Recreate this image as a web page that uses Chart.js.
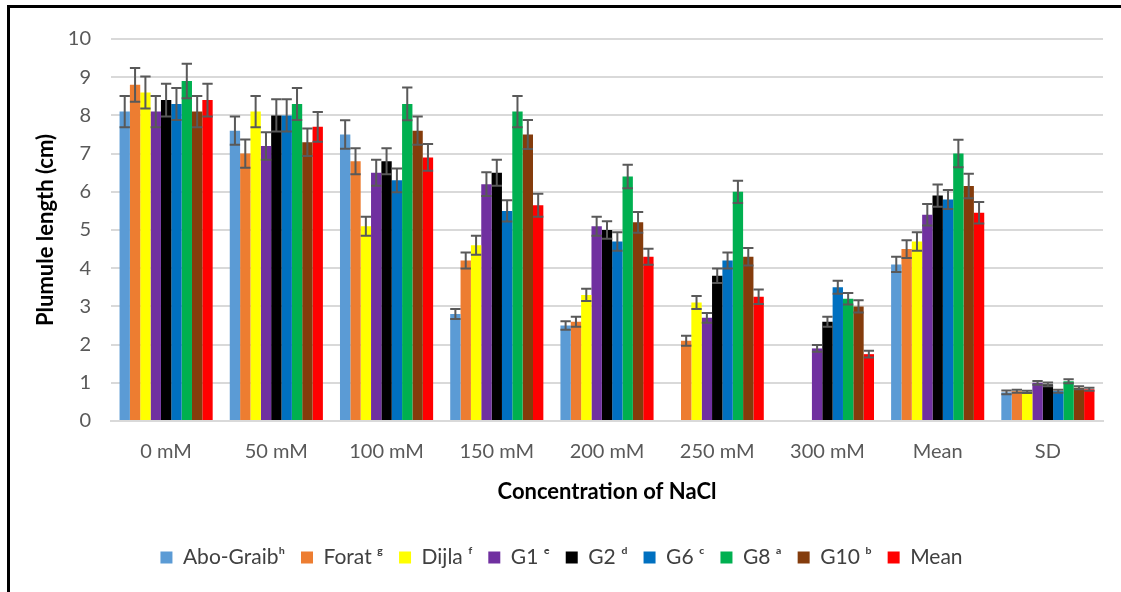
<!DOCTYPE html>
<html>
<head>
<meta charset="utf-8">
<script src="https://cdn.jsdelivr.net/npm/chart.js@4/dist/chart.umd.min.js"></script>
<style>
  body { margin: 0; background: #fff; }
  #wrap { position: relative; width: 1121px; height: 592px; }
  #frame { position: absolute; left: 7px; top: 5px; right: 0; bottom: 0;
           border-left: 3px solid #000; border-top: 3px solid #000; pointer-events: none; }
  canvas { position: absolute; left: 0; top: 0; }
</style>
</head>
<body>
<div id="wrap">
  <canvas id="plumule" width="1121" height="592"></canvas>
  <div id="frame"></div>
</div>
<script>
var categories = ["0 mM", "50 mM", "100 mM", "150 mM", "200 mM", "250 mM", "300 mM", "Mean", "SD"];
var yTicks = [0, 1, 2, 3, 4, 5, 6, 7, 8, 9, 10];

var seriesNames = ["Abo-Graib\u02B0", "Forat \u1D4D", "Dijla \u1DA0", "G1 \u1D49", "G2 \u1D48", "G6 \u1D9C", "G8 \u1D43", "G10 \u1D47", "Mean"];
var seriesColors = ["#5B9BD5", "#ED7D31", "#FFFF00", "#7030A0", "#000000", "#0070C0", "#00B050", "#843C0C", "#FF0000"];

var aboGraib = [8.1, 7.6, 7.5, 2.8, 2.5, null, null, 4.1, 0.75];
var forat    = [8.8, 7.0, 6.8, 4.2, 2.6, 2.1, null, 4.5, 0.78];
var dijla    = [8.6, 8.1, 5.1, 4.6, 3.3, 3.1, null, 4.7, 0.76];
var g1       = [8.1, 7.2, 6.5, 6.2, 5.1, 2.7, 1.9, 5.4, 1.0];
var g2       = [8.4, 8.0, 6.8, 6.5, 5.0, 3.8, 2.6, 5.9, 0.96];
var g6       = [8.3, 8.0, 6.3, 5.5, 4.7, 4.2, 3.5, 5.8, 0.78];
var g8       = [8.9, 8.3, 8.3, 8.1, 6.4, 6.0, 3.2, 7.0, 1.04];
var g10      = [8.1, 7.3, 7.6, 7.5, 5.2, 4.3, 3.0, 6.15, 0.87];
var meanVals = [8.4, 7.7, 6.9, 5.65, 4.3, 3.25, 1.75, 5.45, 0.83];

// +/- error of each bar
var aboGraibErr = [0.41, 0.37, 0.37, 0.13, 0.11, null, null, 0.2, 0.05];
var foratErr    = [0.44, 0.37, 0.34, 0.21, 0.13, 0.13, null, 0.23, 0.04];
var dijlaErr    = [0.42, 0.41, 0.25, 0.25, 0.16, 0.17, null, 0.24, 0.03];
var g1Err       = [0.41, 0.36, 0.34, 0.31, 0.25, 0.13, 0.09, 0.28, 0.05];
var g2Err       = [0.43, 0.42, 0.34, 0.34, 0.23, 0.19, 0.13, 0.29, 0.05];
var g6Err       = [0.42, 0.42, 0.31, 0.28, 0.24, 0.21, 0.17, 0.25, 0.04];
var g8Err       = [0.45, 0.42, 0.43, 0.41, 0.31, 0.29, 0.15, 0.36, 0.05];
var g10Err      = [0.41, 0.36, 0.37, 0.38, 0.27, 0.23, 0.16, 0.32, 0.04];
var meanErr     = [0.43, 0.39, 0.35, 0.30, 0.21, 0.19, 0.09, 0.28, 0.04];

var allValues = [aboGraib, forat, dijla, g1, g2, g6, g8, g10, meanVals];
var allErrors = [aboGraibErr, foratErr, dijlaErr, g1Err, g2Err, g6Err, g8Err, g10Err, meanErr];

var datasets = [];
for (var i = 0; i < seriesNames.length; i++) {
    datasets.push({
        label: seriesNames[i],
        data: allValues[i],
        errors: allErrors[i],
        backgroundColor: seriesColors[i],
        borderWidth: 0,
        categoryPercentage: 0.845,
        barPercentage: 1.0
    });
}

// draws the +/- error bars on top of each bar
var errorBars = {
    id: "errorBars",
    afterDatasetsDraw: function(chart) {
        var ctx = chart.ctx;
        var y = chart.scales.y;
        ctx.save();
        ctx.strokeStyle = "#595959";
        ctx.lineWidth = 2;
        chart.data.datasets.forEach(function(ds, di) {
            var meta = chart.getDatasetMeta(di);
            meta.data.forEach(function(bar, j) {
                var v = ds.data[j];
                var e = ds.errors[j];
                if (v === null || e === null) return;
                var top = y.getPixelForValue(v + e);
                var bottom = y.getPixelForValue(v - e);
                var half = bar.width / 2;
                ctx.beginPath();
                ctx.moveTo(bar.x, top);
                ctx.lineTo(bar.x, bottom);
                ctx.moveTo(bar.x - half, top);
                ctx.lineTo(bar.x + half, top);
                ctx.moveTo(bar.x - half, bottom);
                ctx.lineTo(bar.x + half, bottom);
                ctx.stroke();
            });
        });
        ctx.restore();
    }
};

Chart.defaults.font.family = "Lato, 'Open Sans', sans-serif";

var ctx = document.getElementById("plumule");
var myChart = new Chart(ctx, {
    type: "bar",
    data: {
        labels: categories,
        datasets: datasets
    },
    plugins: [errorBars],
    options: {
        responsive: false,
        animation: false,
        layout: { padding: { left: 20, right: 18, top: 39, bottom: 14 } },
        plugins: {
            tooltip: { enabled: false },
            legend: {
                position: "bottom",
                labels: {
                    boxWidth: 12,
                    boxHeight: 12,
                    padding: 16,
                    color: "#404040",
                    font: { size: 21 }
                }
            }
        },
        scales: {
            x: {
                grid: { display: false, drawTicks: false },
                border: { color: "#d9d9d9", width: 2 },
                ticks: { color: "#595959", font: { size: 20 }, padding: 19 },
                title: {
                    display: true,
                    text: "Concentration of NaCl",
                    color: "#000",
                    font: { size: 22, weight: "bold" },
                    padding: { top: 10, bottom: 26 }
                },
                afterFit: function(scale) { scale.height = 110; }
            },
            y: {
                min: 0,
                max: 10,
                afterBuildTicks: function(scale) {
                    scale.ticks = yTicks.map(function(v) { return { value: v }; });
                },
                grid: { color: "#d9d9d9", lineWidth: 2, drawTicks: false },
                border: { display: false },
                ticks: { color: "#595959", font: { size: 20 }, padding: 20 },
                title: {
                    display: true,
                    text: "Plumule length (cm)",
                    color: "#000",
                    font: { size: 22, weight: "bold" },
                    padding: { top: 13, bottom: 0 }
                },
                afterFit: function(scale) { scale.width = 91; }
            }
        }
    }
});
</script>
</body>
</html>
